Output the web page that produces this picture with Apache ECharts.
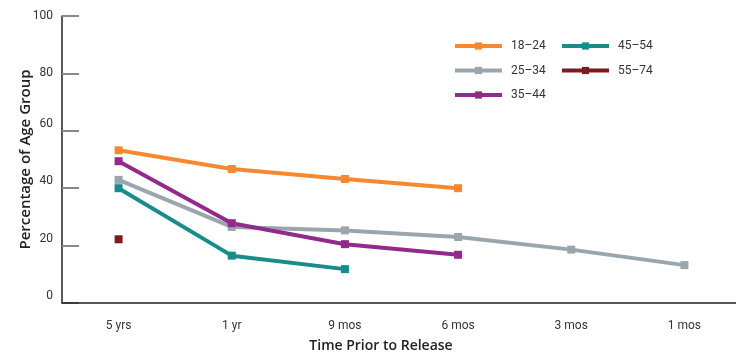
<!DOCTYPE html>
<html>
<head>
<meta charset="utf-8">
<script src="https://cdn.jsdelivr.net/npm/echarts@6/dist/echarts.min.js"></script>
<style>html,body{margin:0;padding:0;background:#fff}#c{width:736px;height:356px}</style>
</head>
<body>
<div id="c"></div>
<script>
var categories = ['5 yrs', '1 yr', '9 mos', '6 mos', '3 mos', '1 mos'];
var seriesNames = ['18\u201324', '25\u201334', '35\u201344', '45\u201354', '55\u201374'];
var s18_24 = [53.2, 46.7, 43.2, 40.0, null, null];
var s25_34 = [42.9, 26.5, 25.3, 23.0, 18.6, 13.2];
var s35_44 = [49.4, 27.8, 20.5, 16.8, null, null];
var s45_54 = [40.0, 16.5, 11.8, null, null, null];
var s55_74 = [22.2, null, null, null, null, null];
var yTicks = [0, 20, 40, 60, 80, 100];

var colors = ['#F7882F', '#9AA6AD', '#922A8C', '#178C8A', '#7D1A1F'];
var allData = [s18_24, s25_34, s35_44, s45_54, s55_74];
var font = "Roboto, 'Liberation Sans', sans-serif";

var chart = echarts.init(document.getElementById('c'), null, {renderer: 'canvas'});
var series = seriesNames.map(function (n, i) {
  return {
    name: n, type: 'line', data: allData[i],
    symbol: 'rect', symbolSize: 8, showAllSymbol: true,
    connectNulls: false,
    lineStyle: {width: 4, color: colors[i]},
    itemStyle: {color: colors[i]},
    emphasis: {disabled: true},
    animation: false
  };
});
var legendCommon = {
  orient: 'vertical', top: 40, padding: 0, itemWidth: 47, itemHeight: 9, itemGap: 12.5,
  lineStyle: {width: 4},
  textStyle: {fontFamily: font, fontSize: 12, color: '#333', padding: [0, 0, 0, 4]},
  selectedMode: false
};
chart.setOption({
  animation: false,
  color: colors,
  grid: {left: 62, right: -5, top: 16, bottom: 53, containLabel: false, outerBoundsMode: 'none'},
  legend: [
    Object.assign({left: 453, data: [seriesNames[0], seriesNames[1], seriesNames[2]]}, legendCommon),
    Object.assign({left: 560, data: [seriesNames[3], seriesNames[4]]}, legendCommon)
  ],
  xAxis: {
    type: 'category', data: categories, boundaryGap: true, z: 5,
    axisLine: {lineStyle: {color: '#222', width: 1.5}},
    axisTick: {inside: true, length: 8, lineStyle: {color: '#222', width: 1}},
    axisLabel: {fontFamily: font, fontSize: 12, color: '#333', margin: 17},
    name: 'Time Prior to Release', nameLocation: 'middle', nameGap: 36, nameMoveOverlap: false,
    nameTextStyle: {fontFamily: "'Open Sans', sans-serif", fontWeight: 600, fontSize: 14, color: '#222', padding: [0, 41, 0, 0]}
  },
  yAxis: {
    type: 'value', min: yTicks[0], max: yTicks[yTicks.length - 1], interval: 20, z: 2,
    axisLine: {show: true, lineStyle: {color: '#222', width: 1.5}},
    axisTick: {show: true, inside: true, length: 17, lineStyle: {color: '#888', width: 2}},
    splitLine: {show: false},
    axisLabel: {
      fontFamily: font, fontSize: 12, color: '#333', margin: 9,
      formatter: function (v) { return v <= 60 ? '{u|' + v + '}' : '{n|' + v + '}'; },
      rich: {
        u: {fontFamily: font, fontSize: 12, color: '#333', padding: [0, 0, 14, 0]},
        n: {fontFamily: font, fontSize: 12, color: '#333'}
      }
    },
    name: 'Percentage of Age Group', nameLocation: 'middle', nameGap: 29, nameMoveOverlap: false,
    nameTextStyle: {fontFamily: "'Open Sans', sans-serif", fontWeight: 600, fontSize: 15, color: '#222'}
  },
  series: series
});
</script>
</body>
</html>
